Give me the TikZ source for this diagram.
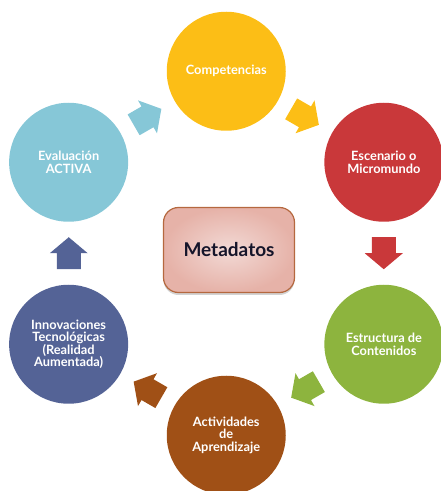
\documentclass[tikz,border=0pt]{standalone}
\usepackage{fontspec}
\setmainfont{Lato}
\usetikzlibrary{shadows}
\definecolor{cYel}{HTML}{FCBE16}
\definecolor{cRed}{HTML}{C9383A}
\definecolor{cGrn}{HTML}{8DB43E}
\definecolor{cBrn}{HTML}{A05016}
\definecolor{cBlu}{HTML}{546396}
\definecolor{cTea}{HTML}{86C7D7}
\definecolor{boxIn}{HTML}{F2D9D5}
\definecolor{boxOut}{HTML}{E6B2A8}
\definecolor{boxLine}{HTML}{B5683F}
\definecolor{metaTxt}{HTML}{15152A}
\begin{document}
\begin{tikzpicture}[x=1pt,y=1pt,
  circ/.style={circle, minimum size=119pt, inner sep=0pt, text=white,
    font=\fontsize{12.8}{12.6}\selectfont\bfseries, align=center}]
\useasboundingbox (0,0) rectangle (441,491);
\coordinate (C) at (226.25,237.75);
% circles
\node[circ, fill=cYel] (comp) at ([shift={(90:182)}]C) {Competencias};
\node[circ, fill=cRed] (esc) at ([shift={(30:182)}]C) {Escenario o\\Micromundo};
\node[circ, fill=cGrn] (est) at ([shift={(-30:182)}]C) {Estructura de\\Contenidos};
\node[circ, fill=cBrn] (act) at ([shift={(-90:182)}]C) {Actividades\\de\\Aprendizaje};
\node[circ, fill=cBlu] (inn) at ([shift={(-150:182)}]C) {Innovaciones\\Tecnológicas\\(Realidad\\Aumentada)};
\node[circ, fill=cTea] (eva) at ([shift={(150:182)}]C) {Evaluación\\ACTIVA};
% center box
\node[draw=boxLine, line width=1.2pt, rounded corners=15pt, inner color=boxIn, outer color=boxOut,
  minimum width=131pt, minimum height=85pt, text=metaTxt,
  font=\fontsize{19}{22}\selectfont\bfseries,
  drop shadow={shadow xshift=0pt, shadow yshift=-2.5pt, opacity=0.35}] (meta) at (229,241) {Metadatos};
% block arrows
\newcommand{\blkarrow}[3]{%
  \coordinate (#1) at ([shift={(#2:157.5)}]C);
  \fill[#3, shift={(#1)}, rotate=#2-90] (-16,-12) -- (0,-12) -- (0,-19) -- (16,0) -- (0,19) -- (0,12) -- (-16,12) -- cycle;}
\blkarrow{a1}{120}{cTea}
\blkarrow{a2}{60}{cYel}
\blkarrow{a3}{0}{cRed}
\blkarrow{a4}{-60}{cGrn}
\blkarrow{a5}{-120}{cBrn}
\blkarrow{a6}{180}{cBlu}
\end{tikzpicture}
\end{document}
